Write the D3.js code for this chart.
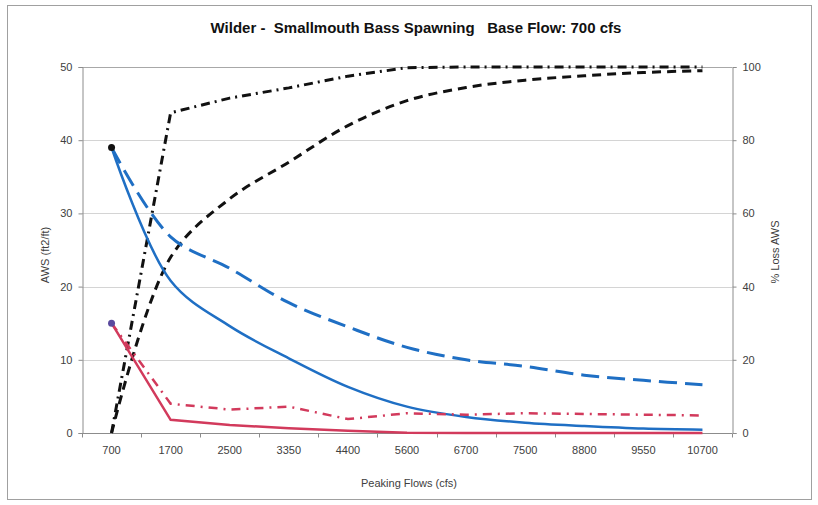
<!DOCTYPE html>
<html>
<head>
<meta charset="utf-8">
<script src="https://cdn.jsdelivr.net/npm/d3@7/dist/d3.min.js"></script>
<style>
  html, body { margin: 0; padding: 0; background: #fff; }
  svg { display: block; }
  text { font-family: "Liberation Sans", Arial, sans-serif; }
</style>
</head>
<body>
<svg id="chart" width="818" height="505"></svg>
<script>
// ---- Data ----
const categories = ["700","1700","2500","3350","4400","5600","6700","7500","8800","9550","10700"];
// AWS (ft2/ft), left axis
const awsBlueSolid  = [39, 20.8, 14.6, 10.2, 6.3, 3.6, 2.2, 1.4, 0.95, 0.6, 0.45];
const awsBlueDashed = [39, 26.8, 22.5, 17.8, 14.5, 11.7, 10.0, 9.1, 7.9, 7.2, 6.6];
const awsRedSolid   = [15, 1.8, 1.1, 0.65, 0.3, 0.05, 0, 0, 0, 0, 0];
const awsRedDashDot = [15, 4.0, 3.2, 3.6, 1.9, 2.7, 2.5, 2.7, 2.6, 2.5, 2.4];
// % Loss AWS, right axis
const lossBlackDashed  = [0, 48, 64, 74, 84, 90.8, 94.4, 96.4, 97.6, 98.5, 99];
const lossBlackDashDot = [0, 87.5, 91.5, 94.3, 97.5, 99.8, 100, 100, 100, 100, 100];
const leftTicks  = [0, 10, 20, 30, 40, 50];
const rightTicks = [0, 20, 40, 60, 80, 100];

const title = "Wilder -  Smallmouth Bass Spawning   Base Flow: 700 cfs";
const leftTitle = "AWS (ft2/ft)";
const rightTitle = "% Loss AWS";
const xTitle = "Peaking Flows (cfs)";

// ---- Layout ----
const svg = d3.select("#chart");
const L = 82, R = 732, T = 67, B = 433;

svg.append("rect").attr("x", 7.5).attr("y", 5.5).attr("width", 804).attr("height", 494)
  .attr("fill", "#fff").attr("stroke", "#a0a0a0").attr("stroke-width", 1);

const xBand = d3.scaleBand().domain(categories).range([L, R]).paddingInner(0).paddingOuter(0);
const xc = d => xBand(d) + xBand.bandwidth() / 2;
const yL = d3.scaleLinear().domain([0, 50]).range([B, T]);
const yR = d3.scaleLinear().domain([0, 100]).range([B, T]);

// gridlines
svg.append("g").selectAll("line").data(leftTicks.filter(d => d > 0)).join("line")
  .attr("x1", L).attr("x2", R)
  .attr("y1", d => Math.round(yL(d)) + 0.5).attr("y2", d => Math.round(yL(d)) + 0.5)
  .attr("stroke", d => d === 50 ? "#a8a8a8" : "#d4d4d4").attr("stroke-width", 1);

// axes
const axisColor = "#8c8c8c";
const gL = svg.append("g").attr("transform", `translate(${L + 0.5},0)`)
  .call(d3.axisLeft(yL).tickValues(leftTicks).tickSize(4).tickPadding(6));
const gR = svg.append("g").attr("transform", `translate(${R + 0.5},0)`)
  .call(d3.axisRight(yR).tickValues(rightTicks).tickSize(4).tickPadding(6));
const gB = svg.append("g").attr("transform", `translate(0,${B + 0.5})`)
  .call(d3.axisBottom(xBand).tickSize(0).tickPadding(13));
// boundary ticks on the category axis
const edges = categories.map(d => xBand(d)).concat([R]);
gB.append("g").selectAll("line").data(edges).join("line")
  .attr("x1", d => Math.round(d) + 0.5).attr("x2", d => Math.round(d) + 0.5)
  .attr("y1", 0).attr("y2", 4).attr("stroke", axisColor);

[gL, gR, gB].forEach(g => {
  g.select(".domain").attr("stroke", axisColor);
  g.selectAll(".tick line").attr("stroke", axisColor);
  g.selectAll(".tick text").attr("fill", "#404040")
    .style("font-size", "11px").style("font-family", "'Liberation Sans', Arial, sans-serif");
});
gB.select(".domain").attr("d", `M${L},0H${R}`);

// lines
const lineL = (curve) => d3.line().x((d, i) => xc(categories[i])).y(d => yL(d)).curve(curve);
const lineR = (curve) => d3.line().x((d, i) => xc(categories[i])).y(d => yR(d)).curve(curve);

const blue = "#1f6fc4", red = "#d23a5c", black = "#111";
const smooth = d3.curveCatmullRom.alpha(0.5);

svg.append("path").datum(lossBlackDashed).attr("d", lineR(smooth))
  .attr("fill", "none").attr("stroke", black).attr("stroke-width", 3).attr("stroke-dasharray", "9,6");
svg.append("path").datum(lossBlackDashDot).attr("d", lineR(d3.curveLinear))
  .attr("fill", "none").attr("stroke", black).attr("stroke-width", 3).attr("stroke-dasharray", "9,5,2,5");
svg.append("path").datum(awsBlueDashed).attr("d", lineL(smooth))
  .attr("fill", "none").attr("stroke", blue).attr("stroke-width", 3).attr("stroke-dasharray", "18,8");
svg.append("path").datum(awsBlueSolid).attr("d", lineL(smooth))
  .attr("fill", "none").attr("stroke", blue).attr("stroke-width", 2.5);
svg.append("path").datum(awsRedDashDot).attr("d", lineL(d3.curveLinear))
  .attr("fill", "none").attr("stroke", red).attr("stroke-width", 2.5).attr("stroke-dasharray", "9,6,2,6");
svg.append("path").datum(awsRedSolid).attr("d", lineL(d3.curveLinear))
  .attr("fill", "none").attr("stroke", red).attr("stroke-width", 2.5);

// markers at base flow
svg.append("circle").attr("cx", xc(categories[0])).attr("cy", yL(awsBlueSolid[0])).attr("r", 3.5).attr("fill", "#111");
svg.append("circle").attr("cx", xc(categories[0])).attr("cy", yL(awsRedSolid[0])).attr("r", 3.5).attr("fill", "#5a4a9e");

// titles
svg.append("text").attr("x", 416).attr("y", 33).attr("text-anchor", "middle")
  .attr("xml:space", "preserve").style("white-space", "pre")
  .style("font-size", "15px").style("font-weight", "bold")
  .attr("fill", "#111").text(title);
svg.append("text").attr("transform", "translate(49,255) rotate(-90)").attr("text-anchor", "middle")
  .style("font-size", "11px").attr("fill", "#404040").text(leftTitle);
svg.append("text").attr("transform", "translate(779,252) rotate(-90)").attr("text-anchor", "middle")
  .style("font-size", "11px").attr("fill", "#404040").text(rightTitle);
svg.append("text").attr("x", 409).attr("y", 487).attr("text-anchor", "middle")
  .style("font-size", "11px").attr("fill", "#404040").text(xTitle);
</script>
</body>
</html>
